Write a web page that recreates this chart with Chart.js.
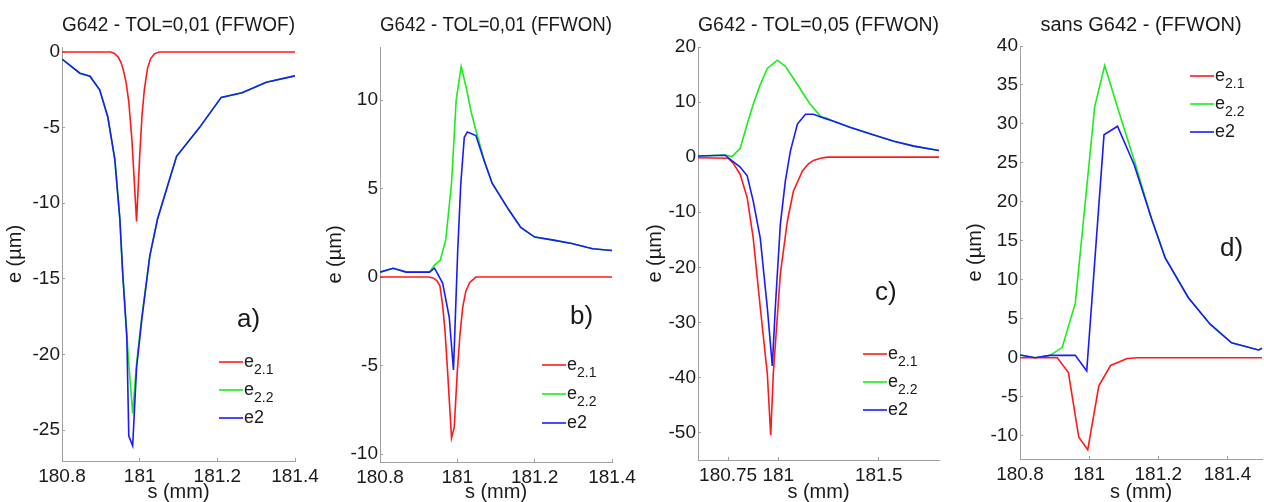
<!DOCTYPE html>
<html><head><meta charset="utf-8">
<script src="https://cdn.jsdelivr.net/npm/chart.js@4.4.1/dist/chart.umd.min.js"></script>
<style>
html,body{margin:0;padding:0;background:#fff;}
#wrap{position:relative;width:1264px;height:502px;overflow:hidden;background:#fff;}
canvas{position:absolute;top:0;}
</style></head><body>
<div id="wrap">
<canvas id="ca" width="320" height="502" style="left:0px"></canvas>
<canvas id="cb" width="320" height="502" style="left:320px"></canvas>
<canvas id="cc" width="320" height="502" style="left:640px"></canvas>
<canvas id="cd" width="304" height="502" style="left:960px"></canvas>
</div>
<script>
// ---------- data ----------
const legendText = [['e','2.1'],['e','2.2'],['e2','']];
const titles = ['G642 - TOL=0,01 (FFWOF)','G642 - TOL=0,01 (FFWON)','G642 - TOL=0,05 (FFWON)','sans G642 - (FFWON)'];
const xLabel = 's (mm)';
const yLabel = 'e (µm)';
const tags = ['a)','b)','c)','d)'];

// panel a
const sA_e21 = [180.8,180.925,180.935,180.945,180.952,180.958,180.965,180.972,180.98,180.992,181.0,181.006,181.012,181.02,181.028,181.038,181.05,181.4];
const eA_e21 = [0,0,-0.1,-0.35,-0.7,-1.2,-2.0,-3.3,-5.8,-11.2,-6.9,-4.2,-2.5,-1.1,-0.45,-0.12,0,0];
const sA_e2  = [180.8,180.846,180.872,180.897,180.918,180.936,180.949,180.956,180.967,180.972,180.982,180.992,181.005,181.026,181.046,181.095,181.154,181.21,181.264,181.326,181.4];
const eA_e22 = [-0.47,-1.4,-1.6,-2.5,-4.3,-7.1,-11.05,-14.5,-18.7,-20.6,-23.9,-20.6,-17.6,-13.5,-11.05,-6.9,-5.0,-3.0,-2.7,-2.0,-1.58];
const eA_e2  = [-0.47,-1.4,-1.6,-2.5,-4.3,-7.1,-11.05,-14.5,-18.9,-25.4,-26.05,-20.9,-17.8,-13.5,-11.05,-6.9,-5.0,-3.0,-2.7,-2.0,-1.58];
const xTicksA = [180.8,181,181.2,181.4];
const yTicksA = [0,-5,-10,-15,-20,-25];

// panel b
const sB_e21 = [180.8,180.925,180.937,180.947,180.955,180.962,180.968,180.975,180.985,180.992,181.0,181.007,181.014,181.022,181.032,181.048,181.4];
const eB_e21 = [0,0,-0.05,-0.2,-0.5,-1.6,-3.0,-5.4,-9.1,-8.5,-5.3,-3.2,-1.7,-0.8,-0.3,0,0];
const sB_e22 = [180.8,180.834,180.868,180.928,180.941,180.956,180.97,180.985,180.997,181.01,181.023,181.036,181.048,181.062,181.069,181.09,181.133,181.164,181.2,181.245,181.296,181.35,181.4];
const eB_e22 = [0.28,0.5,0.28,0.28,0.68,0.96,2.1,5.3,10.0,11.9,10.7,9.3,8.3,7.2,6.6,5.3,3.8,2.8,2.26,2.1,1.9,1.6,1.5];
const sB_e2  = [180.8,180.834,180.868,180.928,180.941,180.962,180.979,180.99,181.001,181.009,181.018,181.026,181.048,181.069,181.09,181.133,181.164,181.2,181.245,181.296,181.35,181.4];
const eB_e2  = [0.28,0.5,0.28,0.28,0.5,-0.34,-2.26,-5.25,1.5,5.3,7.9,8.2,8.0,6.6,5.3,3.8,2.8,2.26,2.1,1.9,1.6,1.5];
const xTicksB = [180.8,181,181.2,181.4];
const yTicksB = [10,5,0,-5,-10];

// panel c
const sC_e21 = [180.6,180.75,180.775,180.81,180.845,180.875,180.91,180.945,180.962,180.975,181.01,181.045,181.075,181.12,181.15,181.175,181.21,181.245,181.8];
const eC_e21 = [-0.1,-0.2,-1.1,-3.1,-7.4,-14.7,-27.3,-39.3,-50.5,-39.3,-21.2,-11.6,-6.2,-2.5,-1.2,-0.6,-0.2,0,0];
const sC_e22 = [180.6,180.735,180.77,180.81,180.845,180.875,180.91,180.945,180.995,181.035,181.095,181.155,181.21,181.245,181.275,181.36,181.46,181.575,181.675,181.8];
const eC_e22 = [0.2,0.4,0.1,1.6,6.0,9.6,13.2,16.1,17.6,16.5,13.2,9.8,7.4,7.0,6.5,5.4,4.2,2.9,2.0,1.2];
const sC_e2  = [180.6,180.735,180.77,180.81,180.845,180.875,180.91,180.945,180.97,180.985,181.01,181.035,181.06,181.095,181.135,181.175,181.225,181.275,181.36,181.46,181.575,181.675,181.8];
const eC_e2  = [0.2,0.35,-0.7,-1.8,-3.4,-8.0,-14.7,-27.3,-37.9,-27.3,-12.2,-4.3,1.1,6.0,7.8,7.8,7.1,6.5,5.4,4.2,2.9,2.0,1.2];
const xTicksC = [180.75,181,181.5];
const yTicksC = [20,10,0,-10,-20,-30,-40,-50];

// panel d
const sD_e21 = [180.8,180.908,180.94,180.97,180.996,181.028,181.062,181.11,181.14,181.5];
const eD_e21 = [0,0,-1.9,-10.2,-11.8,-3.6,-1.0,-0.1,0,0];
const sD_e22 = [180.8,180.844,180.887,180.922,180.96,181.016,181.045,181.092,181.13,181.18,181.22,181.287,181.35,181.412,181.49,181.5];
const eD_e22 = [0.35,0.0,0.3,1.3,7.0,32.2,37.5,30.7,25.4,17.9,12.8,7.7,4.3,1.9,1.0,1.2];
const sD_e2  = [180.8,180.844,180.887,180.96,180.993,181.043,181.082,181.13,181.18,181.22,181.287,181.35,181.412,181.49,181.5];
const eD_e2  = [0.35,0.0,0.3,0.3,-1.7,28.6,29.7,24.8,17.9,12.8,7.7,4.3,1.9,1.0,1.2];
const xTicksD = [180.8,181,181.2,181.4];
const yTicksD = [40,35,30,25,20,15,10,5,0,-5,-10];

// ---------- styling ----------
const RED = '#ff1a1a', GREEN = '#1aee1a', BLUE = '#1a1aff';
const TXT = '#1a1a1a', AX = '#a0a0a0';
const FAM = '"Liberation Sans", Arial, sans-serif';
Chart.defaults.font.family = FAM;

const pts = (s, e) => s.map((v, i) => ({x: v, y: e[i]}));
const fmt = v => String(parseFloat(Number(v).toFixed(2)));

const annot = {
  id: 'annot',
  afterDraw(chart, args, o) {
    const ctx = chart.ctx;
    ctx.save();
    ctx.textBaseline = 'alphabetic';
    ctx.textAlign = 'left';
    chart.data.datasets.forEach((ds, i) => {
      const y = o.legY + i * o.legGap;
      ctx.strokeStyle = ds.borderColor; ctx.lineWidth = 1.6;
      ctx.beginPath(); ctx.moveTo(o.legX, y); ctx.lineTo(o.legX + 24, y); ctx.stroke();
      const [main, sub] = legendText[i];
      ctx.fillStyle = TXT;
      ctx.font = '18px ' + FAM;
      ctx.fillText(main, o.legX + 25, y + 5);
      const w = ctx.measureText(main).width;
      if (sub) { ctx.font = '14px ' + FAM; ctx.fillText(sub, o.legX + 25 + w, y + 12); }
    });
    ctx.fillStyle = TXT;
    ctx.font = '26px ' + FAM;
    ctx.fillText(o.tag, o.tagX, o.tagY);
    ctx.restore();
  }
};

function makeChart(id, c) {
  return new Chart(document.getElementById(id), {
    type: 'line',
    data: { datasets: [
      {label: 'e2.1', data: pts(c.s1, c.e1), borderColor: RED, order: 2},
      {label: 'e2.2', data: pts(c.s2, c.e22), borderColor: GREEN, order: 1},
      {label: 'e2', data: pts(c.s3, c.e2), borderColor: BLUE, order: 0}
    ]},
    options: {
      responsive: false, animation: false, devicePixelRatio: 1,
      layout: {padding: {left: 0, top: 0, right: c.padR, bottom: 0}},
      elements: {point: {radius: 0}, line: {borderWidth: 1.6, tension: 0}},
      plugins: {
        legend: {display: false}, tooltip: {enabled: false},
        title: {display: true, text: c.title, fullSize: false, color: TXT,
                font: {size: 20, weight: 'normal', lineHeight: 1.2}, padding: {top: 13, bottom: c.titlePB}},
        annot: c.annot
      },
      scales: {
        x: {
          type: 'linear', min: c.xmin, max: c.xmax,
          afterBuildTicks: s => { s.ticks = c.xt.map(v => ({value: v})); },
          afterFit: s => { s.height = c.xH; s.paddingLeft = 0; s.paddingRight = 0; },
          ticks: {callback: v => fmt(v), font: {size: 19}, color: TXT, padding: 7, maxRotation: 0, autoSkip: false},
          grid: {drawOnChartArea: false, drawTicks: true, tickLength: -3, tickColor: AX},
          border: {display: true, color: AX, width: 1},
          title: {display: true, text: xLabel, color: TXT, font: {size: 20, lineHeight: 1}, padding: 0}
        },
        y: {
          type: 'linear', min: c.ymin, max: c.ymax,
          afterBuildTicks: s => { s.ticks = c.yt.map(v => ({value: v})); },
          afterFit: s => { s.width = c.yW; s.paddingTop = 0; s.paddingBottom = 0; },
          ticks: {callback: v => fmt(v), font: {size: 19}, color: TXT, padding: 5, autoSkip: false},
          grid: {drawOnChartArea: false, drawTicks: true, tickLength: -3, tickColor: AX},
          border: {display: true, color: AX, width: 1},
          title: {display: true, text: yLabel, color: TXT, font: {size: 20, lineHeight: 1}, padding: {top: 5, bottom: 0}}
        }
      }
    },
    plugins: [annot]
  });
}

makeChart('ca', {s1: sA_e21, e1: eA_e21, s2: sA_e2, e22: eA_e22, s3: sA_e2, e2: eA_e2,
  title: titles[0], xmin: 180.8, xmax: 181.4, ymin: -27.05, ymax: 0.33, xt: xTicksA, yt: yTicksA,
  yW: 62, xH: 41, padR: 25, titlePB: 10,
  annot: {legX: 219, legY: 362, legGap: 28, tag: tags[0], tagX: 237, tagY: 327}});
makeChart('cb', {s1: sB_e21, e1: eB_e21, s2: sB_e22, e22: eB_e22, s3: sB_e2, e2: eB_e2,
  title: titles[1], xmin: 180.8, xmax: 181.4, ymin: -10.45, ymax: 13.0, xt: xTicksB, yt: yTicksB,
  yW: 60, xH: 40, padR: 28, titlePB: 10,
  annot: {legX: 222, legY: 365, legGap: 29, tag: tags[1], tagX: 250, tagY: 324}});
makeChart('cc', {s1: sC_e21, e1: eC_e21, s2: sC_e22, e22: eC_e22, s3: sC_e2, e2: eC_e2,
  title: titles[2], xmin: 180.6, xmax: 181.8, ymin: -55, ymax: 20, xt: xTicksC, yt: yTicksC,
  yW: 58, xH: 42, padR: 21, titlePB: 10,
  annot: {legX: 223, legY: 354, legGap: 28, tag: tags[2], tagX: 235, tagY: 300}});
makeChart('cd', {s1: sD_e21, e1: eD_e21, s2: sD_e22, e22: eD_e22, s3: sD_e2, e2: eD_e2,
  title: titles[3], xmin: 180.8, xmax: 181.5, ymin: -13, ymax: 40, xt: xTicksD, yt: yTicksD,
  yW: 60, xH: 43, padR: 2, titlePB: 9,
  annot: {legX: 230, legY: 76, legGap: 28, tag: tags[3], tagX: 260, tagY: 256}});
</script>
</body></html>
